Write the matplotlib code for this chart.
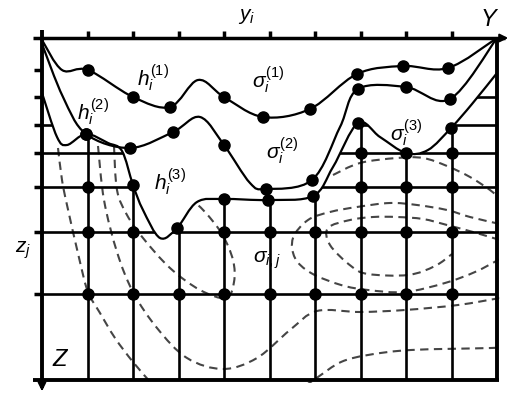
import numpy as np
import matplotlib.pyplot as plt
from matplotlib.path import Path
from matplotlib.patches import PathPatch

plt.rcParams['mathtext.fontset'] = 'custom'
plt.rcParams['mathtext.it'] = 'Liberation Sans:italic'
plt.rcParams['mathtext.rm'] = 'Liberation Sans'
plt.rcParams['font.family'] = ['Liberation Sans', 'DejaVu Sans']

# ---- data (picture coordinates, z grows downward) ----
col_x = [42, 88, 133, 179, 224, 270, 315, 361, 406, 452, 497]
row_z = [38, 70, 97, 125, 153, 187, 232, 294, 380]

# surfaces h^(1), h^(2), h^(3)
h1_x = [42, 62, 88, 133, 170, 198, 224, 263, 310, 357, 403, 448, 497]
h1_z = [40, 70, 70, 97, 107, 80, 97, 117, 109, 74, 66, 68, 38]
h1_dots = [2, 3, 4, 6, 7, 8, 9, 10, 11]

h2_x = [42, 63, 86, 130, 173, 200, 224, 250, 266, 312, 340, 358, 406, 450, 497]
h2_z = [44, 97, 134, 148, 132, 117, 145, 183, 189, 180, 127, 89, 87, 99, 38]
h2_dots = [2, 3, 4, 6, 8, 9, 11, 12, 13]

h3_x = [42, 57, 67, 86, 108, 122, 133, 143, 160, 177, 197, 224, 268, 313, 333,
        358, 380, 406, 428, 451, 472, 497]
h3_z = [93, 137, 145, 134, 143, 151, 185, 210, 238, 228, 202, 199, 200, 196, 167,
        123, 137, 153, 150, 128, 104, 73]
h3_dots = [3, 6, 9, 11, 12, 13, 15, 17, 19]

# grid nodes (column index per row level)
node_rows = [153, 187, 232, 294]
node_cols = [[7, 9],
             [1, 7, 8, 9],
             [1, 2, 4, 5, 6, 7, 8, 9],
             [1, 2, 3, 4, 5, 6, 7, 8, 9]]

# dashed isolines sigma_ij
iso_lines = [
    [(58, 148), (62, 180), (67, 205), (80, 262), (88, 292), (100, 313), (115, 338),
     (133, 362), (152, 384)],
    [(98, 146), (104, 200), (117, 252), (133, 292), (157, 328), (187, 358), (223, 369),
     (257, 358), (290, 330), (317, 311), (360, 312), (405, 310), (458, 305), (500, 298)],
    [(114, 146), (117, 190), (127, 215), (143, 238), (170, 268), (200, 290), (226, 298),
     (234, 282), (233, 260), (222, 234), (205, 212), (190, 198)],
    [(333, 175), (360, 163), (397, 158), (423, 158), (447, 166), (470, 177),
     (490, 190), (502, 200)],
    [(500, 224), (470, 217), (447, 210), (417, 205), (390, 203), (357, 207), (330, 212),
     (308, 220), (293, 238), (295, 258), (311, 273), (341, 285), (368, 290), (405, 292),
     (445, 283), (475, 272), (500, 259)],
    [(500, 240), (473, 232), (447, 225), (423, 219), (397, 217), (373, 217), (350, 220),
     (328, 228), (330, 245), (351, 266), (368, 274), (408, 275), (435, 266), (452, 254)],
    [(305, 386), (318, 377), (341, 362), (368, 355), (411, 350), (491, 348), (502, 347)],
]

labels = [
    (r'$h_i^{(1)}$', 153, 78), (r'$h_i^{(2)}$', 93, 112), (r'$h_i^{(3)}$', 170, 182),
    (r'$\sigma_i^{(1)}$', 268, 80), (r'$\sigma_i^{(2)}$', 282, 151),
    (r'$\sigma_i^{(3)}$', 406, 133), (r'$\sigma_{i,j}$', 267, 260),
    (r'$y_i$', 247, 17), (r'$z_j$', 23, 250),
]


def smooth(xs, zs):
    # catmull-rom through the points, drawn as cubic bezier segments
    p = np.column_stack([xs, zs]).astype(float)
    e = np.vstack([p[0], p, p[-1]])
    verts = [p[0]]
    codes = [Path.MOVETO]
    for i in range(len(p) - 1):
        p0, p1, p2, p3 = e[i], e[i + 1], e[i + 2], e[i + 3]
        verts += [p1 + (p2 - p0) / 6, p2 - (p3 - p1) / 6, p2]
        codes += [Path.CURVE4] * 3
    return verts, codes


fig = plt.figure(figsize=(5.18, 3.95), dpi=100)
ax = fig.add_axes([0, 0, 1, 1])
ax.set_xlim(0, 518)
ax.set_ylim(395, 0)
ax.axis('off')

# region below the lowest surface, used to clip grid and isolines
v3, c3 = smooth(h3_x, h3_z)
clip_v = v3 + [(500, 383), (40, 383), (40, 383)]
clip_c = c3 + [Path.LINETO, Path.LINETO, Path.CLOSEPOLY]
clip = PathPatch(Path(clip_v, clip_c), transform=ax.transData)

for x in col_x[1:-1]:
    ln, = ax.plot([x, x], [30, 380], color='k', lw=1.9, solid_capstyle='butt')
    ln.set_clip_path(clip)
for z in row_z[1:-1]:
    ln, = ax.plot([42, 497], [z, z], color='k', lw=1.9, solid_capstyle='butt')
    ln.set_clip_path(clip)

for pts in iso_lines:
    xs, zs = zip(*pts)
    v, c = smooth(xs, zs)
    pp = PathPatch(Path(v, c), fill=False, edgecolor='#454545', lw=1.5,
                   linestyle=(0, (4, 2.6)))
    ax.add_patch(pp)
    pp.set_clip_path(clip)

for xs, zs, dots in [(h1_x, h1_z, h1_dots), (h2_x, h2_z, h2_dots), (h3_x, h3_z, h3_dots)]:
    v, c = smooth(xs, zs)
    ax.add_patch(PathPatch(Path(v, c), fill=False, edgecolor='k', lw=1.6))
    ax.plot([xs[i] for i in dots], [zs[i] for i in dots], 'o', color='k', ms=8)

for z, cols in zip(node_rows, node_cols):
    ax.plot([col_x[k] for k in cols], [z] * len(cols), 'o', color='k', ms=8)

# frame, axes, ticks
ax.plot([497, 497], [38, 381], color='k', lw=2.8, solid_capstyle='butt')
ax.plot([33, 499], [380, 380], color='k', lw=2.8, solid_capstyle='butt')
ax.plot([42, 42], [30, 388], color='k', lw=2.8, solid_capstyle='butt')
ax.plot([33, 505], [38, 38], color='k', lw=2.5, solid_capstyle='butt')
ax.annotate('', xy=(511, 38), xytext=(500, 38),
            arrowprops=dict(arrowstyle='-|>', color='k', lw=1.5, mutation_scale=12))
ax.annotate('', xy=(42, 394), xytext=(42, 384),
            arrowprops=dict(arrowstyle='-|>', color='k', lw=1.5, mutation_scale=12))
for x in col_x[1:-1]:
    ax.plot([x, x], [31, 38], color='k', lw=2.5, solid_capstyle='butt')
for z in row_z[1:-1]:
    ax.plot([34, 42], [z, z], color='k', lw=2.5, solid_capstyle='butt')

for s, x, z in labels:
    ax.text(x, z, s, fontsize=15, ha='center', va='center')
ax.text(488, 19, 'Y', fontsize=17, style='italic', ha='center', va='center')
ax.text(60, 360, 'Z', fontsize=17, style='italic', ha='center', va='center')

fig.savefig('out.png', dpi=100)
